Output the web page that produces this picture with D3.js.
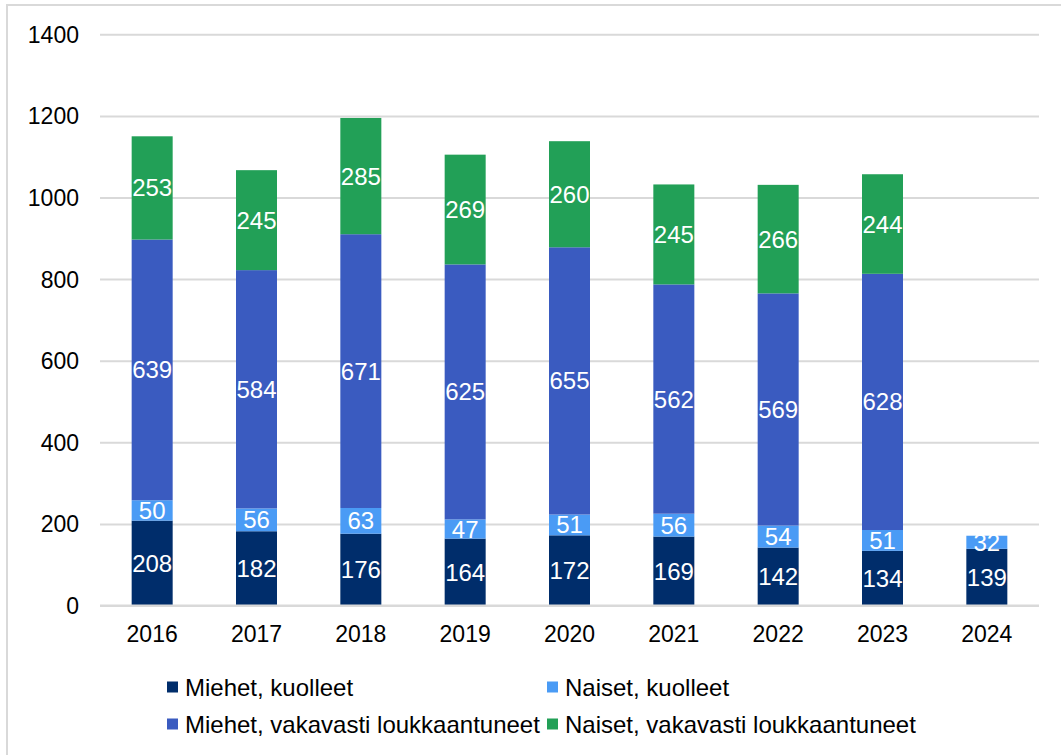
<!DOCTYPE html>
<html>
<head>
<meta charset="utf-8">
<script src="https://cdn.jsdelivr.net/npm/d3@7"></script>
<style>
    body { margin: 0; background: #fff; }
    text { font-family: "Liberation Sans", Arial, sans-serif; }
</style>
</head>
<body>
<div id="chart"></div>
<script>
// data
var years = ["2016", "2017", "2018", "2019", "2020", "2021", "2022", "2023", "2024"];
var series_names = ["Miehet, kuolleet", "Naiset, kuolleet", "Miehet, vakavasti loukkaantuneet", "Naiset, vakavasti loukkaantuneet"];
var men_killed = [208, 182, 176, 164, 172, 169, 142, 134, 139];
var women_killed = [50, 56, 63, 47, 51, 56, 54, 51, 32];
var men_injured = [639, 584, 671, 625, 655, 562, 569, 628, 0];
var women_injured = [253, 245, 285, 269, 260, 245, 266, 244, 0];
var y_ticks = [0, 200, 400, 600, 800, 1000, 1200, 1400];

var colors = ["#002d6b", "#4a9bf5", "#3a5bc0", "#22a057"];

var svg_size = {'width': 1061, 'height': 755};
var plot = {'left': 100, 'right': 1039, 'top': 34.3, 'bottom': 605.5};

var svg = d3.select("#chart")
    .append("svg")
    .attr('width', svg_size.width)
    .attr('height', svg_size.height);

// outer frame (only top/left visible in the picture)
svg.append('rect')
    .attr('x', 7)
    .attr('y', 5)
    .attr('width', 1100)
    .attr('height', 800)
    .style('fill', 'none')
    .style('stroke', '#d9d9d9')
    .style('stroke-width', 2);

var table = years.map(function(y, i){
    return {
        year: y,
        s0: men_killed[i],
        s1: women_killed[i],
        s2: men_injured[i],
        s3: women_injured[i]
    };
});

var stacked = d3.stack().keys(["s0", "s1", "s2", "s3"])(table);

var x_scale = d3.scaleBand()
    .domain(years)
    .range([plot.left, plot.right])
    .paddingInner(0.607)
    .paddingOuter(0.3035);

var y_scale = d3.scaleLinear()
    .domain([0, 1400])
    .range([plot.bottom, plot.top]);

// grid
var y_axis = d3.axisLeft(y_scale)
    .tickValues(y_ticks)
    .tickFormat(d3.format("d"))
    .tickSize(-(plot.right - plot.left))
    .tickPadding(21);

var y_axis_group = svg.append('g')
    .attr('transform', 'translate(' + plot.left + ',0)')
    .call(y_axis);
y_axis_group.select('.domain').remove();
y_axis_group.selectAll('.tick line')
    .style('stroke', '#d9d9d9')
    .style('stroke-width', 2);
y_axis_group.selectAll('.tick text')
    .attr('dy', null)
    .attr('dominant-baseline', 'central')
    .style('font-family', '"Liberation Sans", Arial, sans-serif')
    .style('font-size', '23px')
    .style('fill', '#000');

// bars
var layer = svg.selectAll('.layer')
    .data(stacked)
    .enter()
    .append('g')
    .classed('layer', true)
    .style('fill', function(d, i){ return colors[i]; });

layer.selectAll('rect')
    .data(function(d){ return d.filter(function(p){ return p[1] > p[0]; }); })
    .enter()
    .append('rect')
    .attr('x', function(d){ return x_scale(d.data.year); })
    .attr('y', function(d){ return y_scale(d[1]); })
    .attr('width', x_scale.bandwidth())
    .attr('height', function(d){ return y_scale(d[0]) - y_scale(d[1]); });

layer.selectAll('.value-label')
    .data(function(d){ return d.filter(function(p){ return p[1] > p[0]; }); })
    .enter()
    .append('text')
    .classed('value-label', true)
    .attr('x', function(d){ return x_scale(d.data.year) + x_scale.bandwidth()/2; })
    .attr('y', function(d){ return (y_scale(d[0]) + y_scale(d[1]))/2; })
    .attr('text-anchor', 'middle')
    .attr('dominant-baseline', 'central')
    .style('fill', '#fff')
    .style('font-size', '24px')
    .text(function(d){ return d[1] - d[0]; });

// baseline + x labels
svg.append('line')
    .attr('x1', plot.left)
    .attr('x2', plot.right)
    .attr('y1', y_scale(0))
    .attr('y2', y_scale(0))
    .style('stroke', '#d9d9d9')
    .style('stroke-width', 2);

svg.selectAll('.x-label')
    .data(years)
    .enter()
    .append('text')
    .classed('x-label', true)
    .attr('x', function(d){ return x_scale(d) + x_scale.bandwidth()/2; })
    .attr('y', 634)
    .attr('text-anchor', 'middle')
    .attr('dominant-baseline', 'central')
    .style('font-size', '23px')
    .text(function(d){ return d; });

// legend
var legend = svg.selectAll('.legend-item')
    .data(series_names)
    .enter()
    .append('g')
    .classed('legend-item', true)
    .attr('transform', function(d, i){
        var lx = (i % 2 == 0) ? 167 : 547;
        var ly = (i < 2) ? 687 : 724;
        return 'translate(' + lx + ',' + ly + ')';
    });

legend.append('rect')
    .attr('x', 0)
    .attr('y', -5.5)
    .attr('width', 11)
    .attr('height', 11)
    .style('fill', function(d, i){ return colors[i]; });

legend.append('text')
    .attr('x', 18)
    .attr('y', 0)
    .attr('dominant-baseline', 'central')
    .style('font-size', '24px')
    .text(function(d){ return d; });
</script>
</body>
</html>
